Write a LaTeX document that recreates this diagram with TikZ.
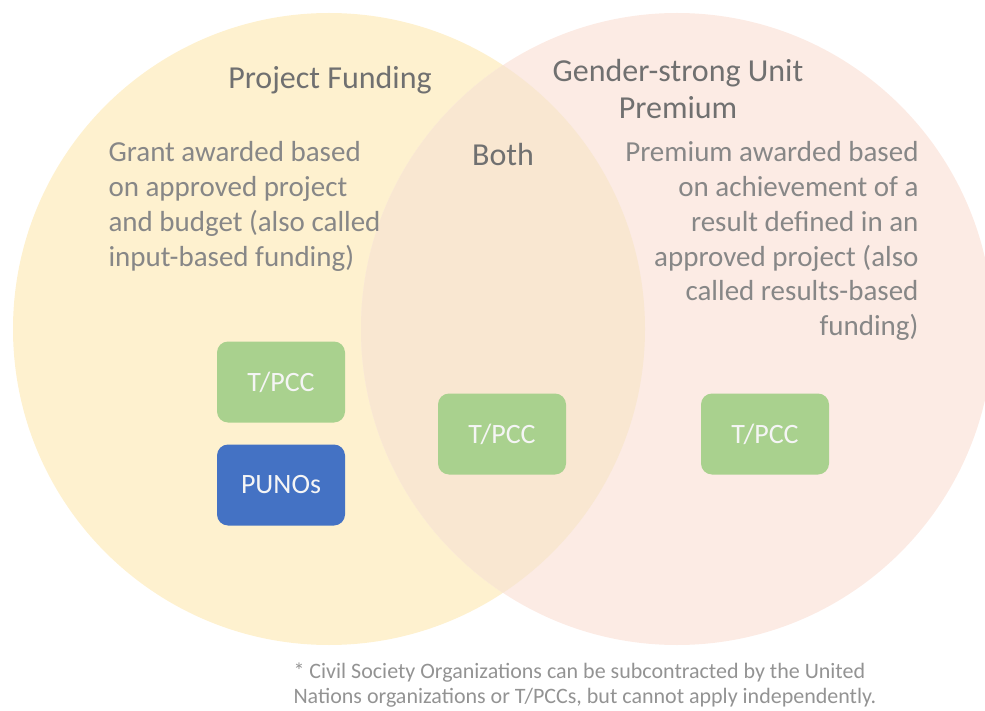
\documentclass[tikz,border=0pt]{standalone}
\usepackage{fontspec}
\setmainfont{Carlito}
\definecolor{pfyel}{HTML}{FEF1CF}
\definecolor{gspink}{HTML}{FCEBE4}
\definecolor{lens}{HTML}{F9E7D1}
\definecolor{boxgreen}{HTML}{A9D18E}
\definecolor{boxblue}{HTML}{4472C4}
\definecolor{txtgray}{HTML}{878787}
\definecolor{headgray}{HTML}{707070}

\begin{document}
\begin{tikzpicture}[x=1pt,y=-1pt,
  unitbox/.style={rounded corners=11pt,minimum width=128pt,minimum height=81pt,
    inner sep=0pt,font=\fontsize{28}{32}\selectfont,text=white!92!gray},
  head/.style={text=headgray,font=\fontsize{32}{37}\selectfont,align=center},
  body/.style={text=txtgray,font=\fontsize{29}{34.8}\selectfont}]
  \useasboundingbox(0,0)rectangle(985,711);
  % the two sets
  \fill[pfyel](329,329)circle(316);
  \fill[gspink](677,329)circle(316);
  \begin{scope}
    \clip(329,329)circle(316);
    \fill[lens](677,329)circle(316);
  \end{scope}
  % headings
  \node[head](pf)at(330,80){Project Funding};
  \node[head](gs)at(678,89){Gender-strong Unit\\Premium};
  \node[head](both)at(503,155){Both};
  % descriptions
  \node[body,align=left,anchor=north west](pfdesc)at(105,138)
    {Grant awarded based\\on approved project\\and budget (also called\\input-based funding)};
  \node[body,align=right,anchor=north east](gsdesc)at(922,138)
    {Premium awarded based\\on achievement of a\\result defined in an\\approved project (also\\called results-based\\funding)};
  % recipients
  \node[unitbox,fill=boxgreen](tpccl)at(281,382){T/PCC};
  \node[unitbox,fill=boxblue](punos)at(281,485){PUNOs};
  \node[unitbox,fill=boxgreen](tpccm)at(502,434){T/PCC};
  \node[unitbox,fill=boxgreen](tpccr)at(765,434){T/PCC};
  % footnote
  \node[text=txtgray!90,font=\fontsize{22}{25}\selectfont,align=left,anchor=north west](note)at(290,659)
    {* Civil Society Organizations can be subcontracted by the United\\Nations organizations or T/PCCs, but cannot apply independently.};
\end{tikzpicture}
\end{document}
